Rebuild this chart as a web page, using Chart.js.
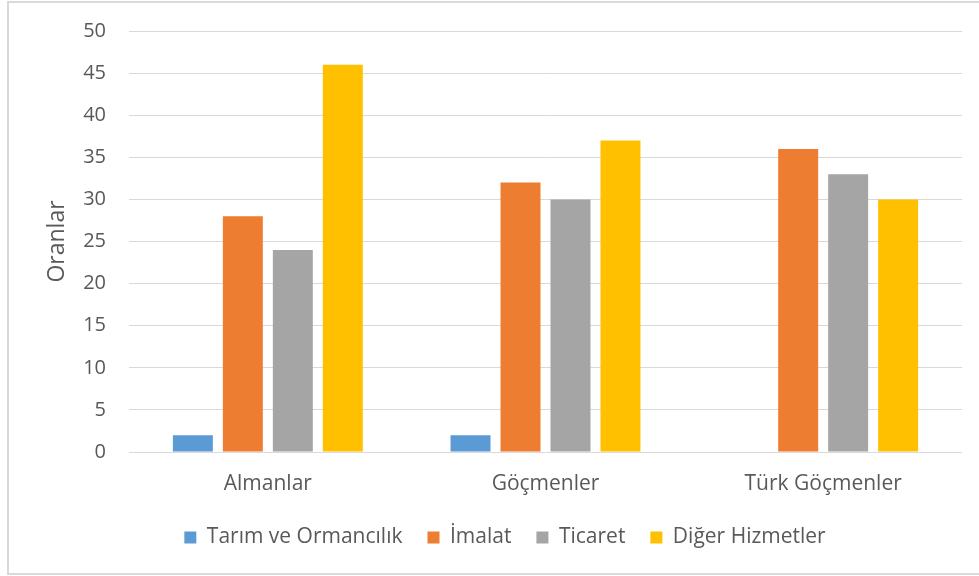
<!DOCTYPE html>
<html>
<head>
<meta charset="utf-8">
<script src="https://cdn.jsdelivr.net/npm/chart.js@4"></script>
<style>
  html, body { margin: 0; padding: 0; background: #fff; overflow: hidden; }
  #frame { position: absolute; left: 7px; top: 1px; width: 980px; height: 574px; border: 2px solid #d9d9d9; box-sizing: border-box; }
  #wrap { position: absolute; left: 0; top: 0; width: 979px; height: 576px; }
</style>
</head>
<body>
<div id="frame"></div>
<div id="wrap"><canvas id="chart" width="979" height="576"></canvas></div>
<script>
const categories = ['Almanlar', 'Göçmenler', 'Türk Göçmenler'];
const tarim = [2, 2, 0];
const imalat = [28, 32, 36];
const ticaret = [24, 30, 33];
const digerHizmetler = [46, 37, 30];
const yTicks = [0, 5, 10, 15, 20, 25, 30, 35, 40, 45, 50];

const textColor = '#595959';
const fontFamily = "'Open Sans', 'Noto Sans', sans-serif";

// the legend in the original sits a bit right of the canvas centre
const legendShift = {
  id: 'legendShift',
  afterLayout(chart) {
    chart.legend.left += 24;
    chart.legend.right += 24;
  }
};

new Chart(document.getElementById('chart'), {
  type: 'bar',
  data: {
    labels: categories,
    datasets: [
      { label: 'Tarım ve Ormancılık', data: tarim, backgroundColor: '#5B9BD5' },
      { label: 'İmalat', data: imalat, backgroundColor: '#ED7D31' },
      { label: 'Ticaret', data: ticaret, backgroundColor: '#A5A5A5' },
      { label: 'Diğer Hizmetler', data: digerHizmetler, backgroundColor: '#FFC000' }
    ]
  },
  plugins: [legendShift],
  options: {
    responsive: false,
    animation: false,
    datasets: { bar: { categoryPercentage: 0.72, barPercentage: 0.8 } },
    layout: { padding: { left: 0, right: 17, top: 31, bottom: 18 } },
    plugins: {
      tooltip: { enabled: false },
      legend: {
        position: 'bottom',
        labels: {
          color: textColor,
          font: { family: fontFamily, size: 21 },
          boxWidth: 12,
          boxHeight: 12,
          padding: 25
        }
      }
    },
    scales: {
      x: {
        grid: { display: false },
        border: { display: false },
        ticks: { color: textColor, font: { family: fontFamily, size: 21 }, padding: 11 },
        afterFit: (scale) => { scale.height = 50; }
      },
      y: {
        min: 0,
        max: 50,
        afterBuildTicks: (scale) => { scale.ticks = yTicks.map(v => ({ value: v })); },
        grid: { color: '#d9d9d9', lineWidth: 1, drawTicks: false },
        border: { display: false },
        ticks: { color: textColor, font: { family: fontFamily, size: 20 }, padding: 23 },
        title: { display: true, text: 'Oranlar', color: textColor, font: { family: fontFamily, size: 23 }, padding: 44 },
        afterFit: (scale) => {
          scale.width = 129;
          scale.paddingTop = 0;
          scale.paddingBottom = 0;
        }
      }
    }
  }
});
</script>
</body>
</html>
